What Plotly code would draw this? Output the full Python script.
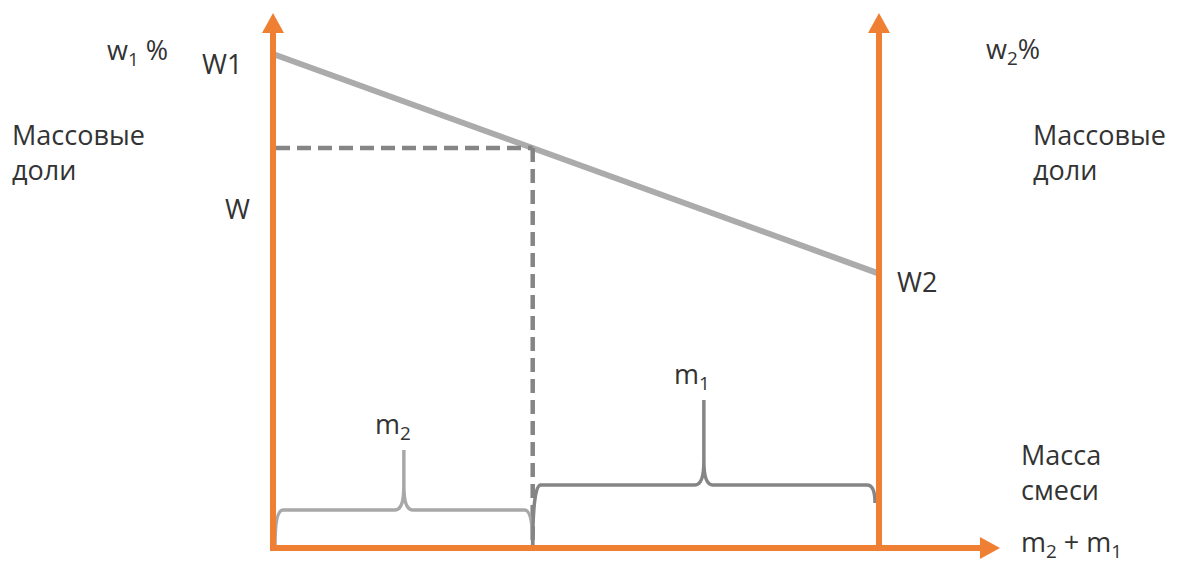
import plotly.graph_objects as go

# ---------------- data ----------------
part_labels = ["m<sub>2</sub>", "m<sub>1</sub>"]      # parts of the mixture (left, right)
part_masses = [3.0, 4.0]                              # relative masses
fraction_labels = ["W1", "W2"]
fraction_values = [90.0, 50.0]                        # mass fractions, %

m2, m1 = part_masses
total = m2 + m1
w1, w2 = fraction_values
w_mix = w1 + (w2 - w1) * m2 / total                   # lever rule

# ---------------- geometry helpers ----------------
OFF = 8                         # page body margin
W, H = 1180 - OFF, 566 - OFF    # figure size so that it fits the window
X0_PX, XT_PX = 273, 879         # page pixel positions of x=0 and x=total
Y0_PX, YW1_PX = 548, 54         # page pixel positions of y=0 and y=w1
sx = (XT_PX - X0_PX) / total
sy = (Y0_PX - YW1_PX) / w1
def dx(p): return p / sx
def dy(p): return p / sy

x_range = [-(X0_PX - OFF) / sx, (W - (X0_PX - OFF)) / sx]
y_range = [-(H - (Y0_PX - OFF)) / sy, (Y0_PX - OFF) / sy]

ORANGE = "#EF8033"
LINE_GRAY = "#ABABAB"
DARK_GRAY = "#858585"
LIGHT_GRAY = "#A8A8A8"
TEXT = "#333333"
FONT = "Open Sans"
FS = 27

fig = go.Figure()

# main fraction line
fig.add_trace(go.Scatter(x=[0, total], y=[w1, w2], mode="lines",
                         line=dict(color=LINE_GRAY, width=6), hoverinfo="skip"))

shapes = []
# dashed guides
shapes.append(dict(type="line", x0=dx(3), x1=m2, y0=w_mix, y1=w_mix,
                   line=dict(color=DARK_GRAY, width=4.5, dash="14px,7px")))
shapes.append(dict(type="line", x0=m2, x1=m2, y0=w_mix, y1=0,
                   line=dict(color=DARK_GRAY, width=4.5, dash="14px,7px")))

# braces
def brace(xa, xb, h, top, base_a, base_b, color):
    xm = (xa + xb) / 2
    cx, cy = dx(9), dy(24)
    ex = dx(8)
    path = (f"M{xa},{base_a} Q{xa},{h} {xa+ex},{h} L{xm-cx},{h} "
            f"Q{xm},{h} {xm},{h+cy} L{xm},{top} M{xm},{h+cy} "
            f"Q{xm},{h} {xm+cx},{h} L{xb-ex},{h} Q{xb},{h} {xb},{base_b}")
    return dict(type="path", path=path, line=dict(color=color, width=3.5))

shapes.append(brace(dx(2), m2, dy(38), dy(98), dy(2), dy(1), LIGHT_GRAY))
shapes.append(brace(m2, total - dx(4), dy(63), dy(148), 0, dy(45), DARK_GRAY))

# orange axes
y_top = dy(Y0_PX - 13)
x_end = dx(1000 - X0_PX)
ah, aw = 20, 11   # arrow length / half width (px)
for xv in (0, total):
    shapes.append(dict(type="line", x0=xv, x1=xv, y0=-dy(3), y1=y_top - dy(ah - 2),
                       line=dict(color=ORANGE, width=6)))
    shapes.append(dict(type="path",
                       path=f"M{xv-dx(aw)},{y_top-dy(ah)} L{xv},{y_top} L{xv+dx(aw)},{y_top-dy(ah)} Z",
                       fillcolor=ORANGE, line=dict(width=0)))
shapes.append(dict(type="line", x0=-dx(3), x1=x_end - dx(ah - 2), y0=0, y1=0,
                   line=dict(color=ORANGE, width=6)))
shapes.append(dict(type="path",
                   path=f"M{x_end-dx(ah)},{dy(aw)} L{x_end},0 L{x_end-dx(ah)},{-dy(aw)} Z",
                   fillcolor=ORANGE, line=dict(width=0)))

# ---------------- text ----------------
def ann(text, x, y, xref="x", yref="y", xa="center", ya="middle", xs=0, ys=0, align="left"):
    return dict(text=text, x=x, y=y, xref=xref, yref=yref, xanchor=xa, yanchor=ya,
                xshift=xs, yshift=ys, showarrow=False, align=align,
                font=dict(family=FONT, size=FS, color=TEXT))

def px(p): return (p - OFF) / W
def py(p): return 1 - (p - OFF) / H

annotations = [
    ann("w<sub>1</sub> %", px(105), py(52), "paper", "paper", xa="left"),
    ann("w<sub>2</sub>%", px(984), py(50), "paper", "paper", xa="left"),
    ann("Массовые<br>доли", px(10), py(114), "paper", "paper", xa="left", ya="top"),
    ann("Массовые<br>доли", px(1031), py(114), "paper", "paper", xa="left", ya="top"),
    ann(fraction_labels[0], 0, w1, xa="right", xs=-29, ys=-9),
    ann(fraction_labels[1], total, w2, xa="left", xs=16, ys=-8),
    ann("W", 0, w_mix, xa="right", xs=-21, ys=-60),
    ann(part_labels[0], m2 / 2, dy(98), ya="bottom", xs=-10, ys=2),
    ann(part_labels[1], m2 + m1 / 2, dy(148), ya="bottom", xs=-14, ys=2),
    ann("Масса<br>смеси", px(1019), py(434), "paper", "paper", xa="left", ya="top"),
    ann("m<sub>2</sub> + m<sub>1</sub>", px(1019), py(566), "paper", "paper", xa="left", ya="bottom"),
]

fig.update_layout(
    width=W, height=H, margin=dict(l=0, r=0, t=0, b=0),
    paper_bgcolor="white", plot_bgcolor="white", showlegend=False,
    xaxis=dict(range=x_range, visible=False, fixedrange=True),
    yaxis=dict(range=y_range, visible=False, fixedrange=True),
    shapes=shapes, annotations=annotations,
)

fig.write_html("out.html")
